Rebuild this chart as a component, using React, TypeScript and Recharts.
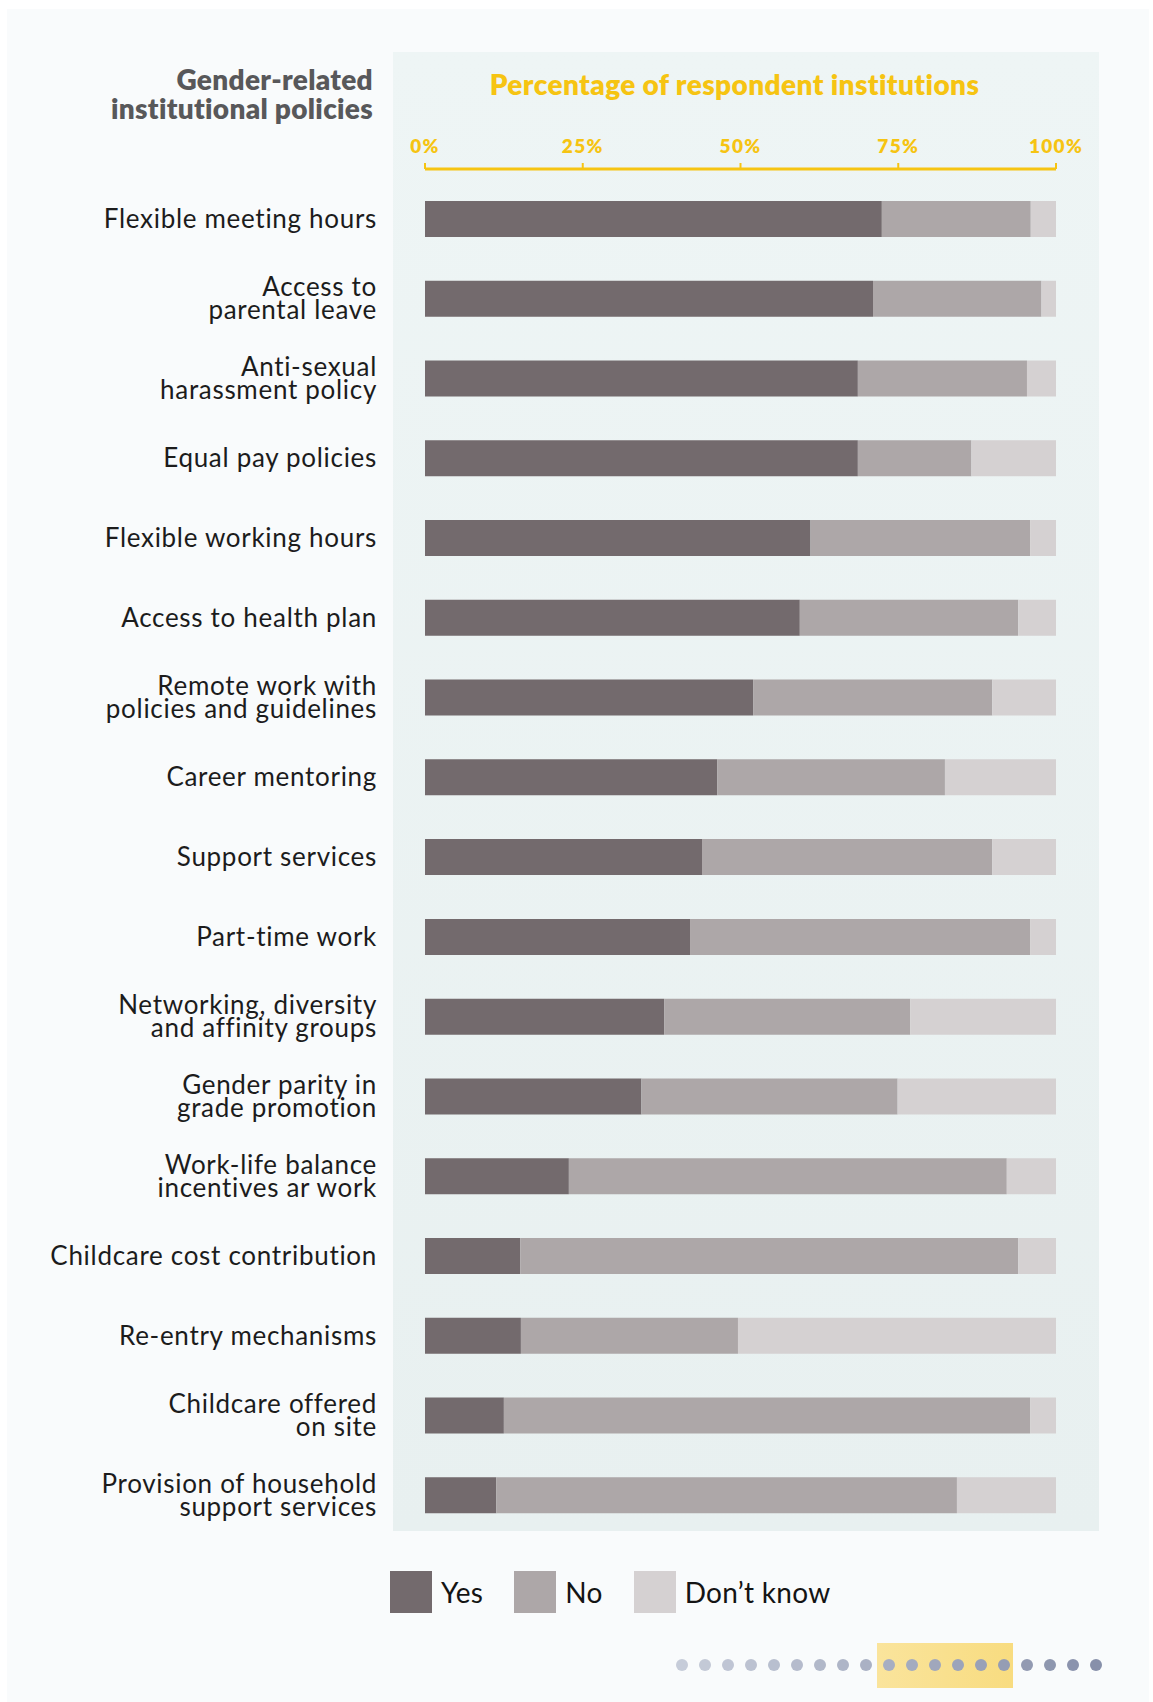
import React from 'react';
import { BarChart, Bar, XAxis, YAxis, Legend } from 'recharts';

// policy names, "\n" marks the line breaks used in the labels
const policies = [
  'Flexible meeting hours',
  'Access to\nparental leave',
  'Anti-sexual\nharassment policy',
  'Equal pay policies',
  'Flexible working hours',
  'Access to health plan',
  'Remote work with\npolicies and guidelines',
  'Career mentoring',
  'Support services',
  'Part-time work',
  'Networking, diversity\nand affinity groups',
  'Gender parity in\ngrade promotion',
  'Work-life balance\nincentives ar work',
  'Childcare cost contribution',
  'Re-entry mechanisms',
  'Childcare offered\non site',
  'Provision of household\nsupport services',
];

// shares of respondent institutions (%)
const yesShare = [72.4, 71.0, 68.6, 68.6, 61.1, 59.4, 52.0, 46.3, 43.9, 42.0, 37.9, 34.3, 22.8, 15.1, 15.2, 12.5, 11.3];
const noShare = [23.6, 26.7, 26.8, 18.0, 34.8, 34.6, 37.9, 36.1, 46.0, 53.9, 39.0, 40.6, 69.4, 78.9, 34.4, 83.4, 73.0];
const dontKnowShare = [4.0, 2.3, 4.6, 13.4, 4.1, 6.0, 10.1, 17.6, 10.1, 4.1, 23.1, 25.1, 7.8, 6.0, 50.4, 4.1, 15.7];

const seriesNames = ['Yes', 'No', 'Don’t know'];
const percentTicks = [0, 25, 50, 75, 100];
const pagerDotCount = 19;

const YES = '#736a6d';
const NO = '#ada7a8';
const DK = '#d5d1d2';
const GOLD = '#f6c412';
const FONT = 'Lato, "Noto Sans", sans-serif';

const data = policies.map((name, i) => ({
  name,
  yes: yesShare[i],
  no: noShare[i],
  dk: dontKnowShare[i],
}));

const PolicyTick = (props: any) => {
  const { x, y, payload } = props;
  const lines = String(payload.value).split('\n');
  const lh = 23;
  const start = y - ((lines.length - 1) * lh) / 2;
  return (
    <text x={x} y={start} textAnchor="end" fontFamily={FONT} fontSize={26} letterSpacing={0.7} fill="#1c1c1c">
      {lines.map((l, i) => (
        <tspan key={i} x={x} y={start + i * lh} dy="0.35em">
          {l}
        </tspan>
      ))}
    </text>
  );
};

const LegendContent = (props: any) => {
  const items = [...(props.payload || [])].sort(
    (a: any, b: any) => seriesNames.indexOf(a.value) - seriesNames.indexOf(b.value),
  );
  return (
    <div style={{ display: 'flex', alignItems: 'center' }}>
      {items.map((e: any) => (
        <div key={e.value} style={{ display: 'flex', alignItems: 'center', marginRight: 31 }}>
          <div style={{ width: 42, height: 42, background: e.color }} />
          <span style={{ marginLeft: 9, fontSize: 28, fontFamily: FONT, color: '#141414', letterSpacing: 0.3 }}>
            {e.value}
          </span>
        </div>
      ))}
    </div>
  );
};

export default function App() {
  const dots = Array.from({ length: pagerDotCount }, (_, i) => i);
  return (
    <div style={{ position: 'absolute', left: 0, top: 0, width: 1153, height: 1702, background: '#fff', overflow: 'hidden' }}>
      {/* card */}
      <div style={{ position: 'absolute', left: 7, top: 9, width: 1142, height: 1693, background: '#f9fbfc' }} />
      {/* chart panel */}
      <div
        style={{
          position: 'absolute',
          left: 393,
          top: 52,
          width: 706,
          height: 1479,
          background: 'linear-gradient(#eef5f5, #e8f0f0)',
        }}
      />
      <div
        style={{
          position: 'absolute',
          right: 1153 - 373,
          top: 65,
          textAlign: 'right',
          fontFamily: FONT,
          fontWeight: 800,
          fontSize: 28,
          lineHeight: '29px',
          color: '#58585a',
          letterSpacing: 0.3,
          whiteSpace: 'nowrap',
        }}
      >
        Gender-related
        <br />
        institutional policies
      </div>
      <div
        style={{
          position: 'absolute',
          left: 440,
          width: 589,
          top: 67,
          textAlign: 'center',
          fontFamily: FONT,
          fontWeight: 800,
          fontSize: 28,
          color: GOLD,
          letterSpacing: 0.4,
          whiteSpace: 'nowrap',
        }}
      >
        Percentage of respondent institutions
      </div>

      <div style={{ position: 'absolute', left: 0, top: 0 }}>
        <BarChart
          width={1153}
          height={1702}
          data={data}
          layout="vertical"
          margin={{ top: 129, right: 97, bottom: 167, left: 0 }}
          style={{ fontFamily: FONT }}
        >
          <XAxis
            type="number"
            orientation="top"
            domain={[0, 100]}
            ticks={percentTicks}
            tickFormatter={(v: number) => `${v}%`}
            height={40}
            axisLine={{ stroke: GOLD, strokeWidth: 3 }}
            tickLine={{ stroke: GOLD, strokeWidth: 2 }}
            tickSize={6}
            tickMargin={10}
            tick={{ fill: GOLD, fontSize: 19, fontWeight: 800, fontFamily: FONT, letterSpacing: 1.3 }}
            interval={0}
          />
          <YAxis
            type="category"
            dataKey="name"
            width={425}
            axisLine={false}
            tickLine={false}
            tickSize={0}
            tickMargin={48}
            padding={{ top: 10, bottom: 0 }}
            tick={<PolicyTick />}
            interval={0}
          />
          <Legend
            layout="horizontal"
            verticalAlign="middle"
            align="center"
            content={<LegendContent />}
            wrapperStyle={{ position: 'absolute', left: 390, top: 1571, width: 'auto', height: 'auto' }}
          />
          <Bar dataKey="yes" name={seriesNames[0]} stackId="s" fill={YES} barSize={36} isAnimationActive={false} />
          <Bar dataKey="no" name={seriesNames[1]} stackId="s" fill={NO} barSize={36} isAnimationActive={false} />
          <Bar dataKey="dk" name={seriesNames[2]} stackId="s" fill={DK} barSize={36} isAnimationActive={false} />
        </BarChart>
      </div>

      {/* page indicator */}
      <div
        style={{
          position: 'absolute',
          left: 877,
          top: 1643,
          width: 136,
          height: 45,
          background: 'linear-gradient(90deg, #fae49c, #f8dc80)',
        }}
      />
      <div style={{ position: 'absolute', left: 0, top: 0, width: 1102, height: 1702, overflow: 'hidden', pointerEvents: 'none' }}>
        {dots.map((i) => {
          const t = i / (pagerDotCount - 1);
          const r = Math.round(198 - t * (198 - 135));
          const g = Math.round(204 - t * (204 - 144));
          const b = Math.round(217 - t * (217 - 170));
          return (
            <div
              key={i}
              style={{
                position: 'absolute',
                left: 682 + i * 23 - 6,
                top: 1665 - 6,
                width: 12,
                height: 12,
                borderRadius: '50%',
                background: `rgb(${r},${g},${b})`,
              }}
            />
          );
        })}
      </div>
    </div>
  );
}
